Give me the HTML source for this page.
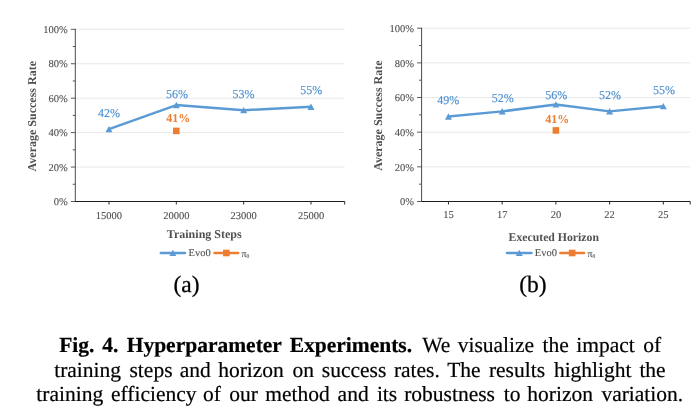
<!DOCTYPE html>
<html><head><meta charset="utf-8"><title>Fig. 4</title>
<style>
html,body{margin:0;padding:0;background:#fff;}
svg{display:block;filter:opacity(1);}
text{font-family:"Liberation Serif","DejaVu Serif",serif;text-rendering:geometricPrecision;}
.tk{font-size:10.5px;fill:#4d4d4d;stroke:#4d4d4d;stroke-width:0.1px;}
.dl{font-size:12px;}
.tt{font-size:12px;font-weight:bold;fill:#505050;}
.sub{font-size:23.5px;fill:#000;stroke:#000;stroke-width:0.25px;}
.cap{font-size:21.5px;fill:#000;stroke:#000;stroke-width:0.2px;}
</style></head><body>
<svg width="696" height="418" viewBox="0 0 696 418">
<rect width="696" height="418" fill="#fff"/>
<line x1="75.3" x2="344.7" y1="167.06" y2="167.06" stroke="#E9E9E9" stroke-width="1"/>
<line x1="75.3" x2="344.7" y1="132.62" y2="132.62" stroke="#E9E9E9" stroke-width="1"/>
<line x1="75.3" x2="344.7" y1="98.18" y2="98.18" stroke="#E9E9E9" stroke-width="1"/>
<line x1="75.3" x2="344.7" y1="63.74" y2="63.74" stroke="#E9E9E9" stroke-width="1"/>
<line x1="75.3" x2="344.7" y1="29.30" y2="29.30" stroke="#E9E9E9" stroke-width="1"/>
<line x1="70.8" x2="75.3" y1="201.50" y2="201.50" stroke="#4a4a4a" stroke-width="0.9"/>
<line x1="72.7" x2="75.3" y1="184.28" y2="184.28" stroke="#4a4a4a" stroke-width="0.9"/>
<line x1="70.8" x2="75.3" y1="167.06" y2="167.06" stroke="#4a4a4a" stroke-width="0.9"/>
<line x1="72.7" x2="75.3" y1="149.84" y2="149.84" stroke="#4a4a4a" stroke-width="0.9"/>
<line x1="70.8" x2="75.3" y1="132.62" y2="132.62" stroke="#4a4a4a" stroke-width="0.9"/>
<line x1="72.7" x2="75.3" y1="115.40" y2="115.40" stroke="#4a4a4a" stroke-width="0.9"/>
<line x1="70.8" x2="75.3" y1="98.18" y2="98.18" stroke="#4a4a4a" stroke-width="0.9"/>
<line x1="72.7" x2="75.3" y1="80.96" y2="80.96" stroke="#4a4a4a" stroke-width="0.9"/>
<line x1="70.8" x2="75.3" y1="63.74" y2="63.74" stroke="#4a4a4a" stroke-width="0.9"/>
<line x1="72.7" x2="75.3" y1="46.52" y2="46.52" stroke="#4a4a4a" stroke-width="0.9"/>
<line x1="70.8" x2="75.3" y1="29.30" y2="29.30" stroke="#4a4a4a" stroke-width="0.9"/>
<text x="67.8" y="205.25" text-anchor="end" class="tk">0%</text>
<text x="67.8" y="170.81" text-anchor="end" class="tk">20%</text>
<text x="67.8" y="136.37" text-anchor="end" class="tk">40%</text>
<text x="67.8" y="101.93" text-anchor="end" class="tk">60%</text>
<text x="67.8" y="67.49" text-anchor="end" class="tk">80%</text>
<text x="67.8" y="33.05" text-anchor="end" class="tk">100%</text>
<line x1="75.3" x2="75.3" y1="28.8" y2="202.0" stroke="#4a4a4a" stroke-width="1"/>
<line x1="75.3" x2="344.7" y1="201.5" y2="201.5" stroke="#1c1c1c" stroke-width="1.2"/>
<line x1="108.97" x2="108.97" y1="201.5" y2="204.5" stroke="#2a2a2a" stroke-width="1"/>
<line x1="176.32" x2="176.32" y1="201.5" y2="204.5" stroke="#2a2a2a" stroke-width="1"/>
<line x1="243.68" x2="243.68" y1="201.5" y2="204.5" stroke="#2a2a2a" stroke-width="1"/>
<line x1="311.02" x2="311.02" y1="201.5" y2="204.5" stroke="#2a2a2a" stroke-width="1"/>
<line x1="344.70" x2="344.70" y1="201.5" y2="204.5" stroke="#2a2a2a" stroke-width="1"/>
<text x="108.97" y="219.20" text-anchor="middle" class="tk">15000</text>
<text x="176.32" y="219.20" text-anchor="middle" class="tk">20000</text>
<text x="243.68" y="219.20" text-anchor="middle" class="tk">23000</text>
<text x="311.02" y="219.20" text-anchor="middle" class="tk">25000</text>
<polyline points="108.97,129.18 176.32,105.07 243.68,110.23 311.02,106.79" fill="none" stroke="#5B9BD5" stroke-width="2.5" stroke-linejoin="round" stroke-linecap="round"/>
<polygon points="108.97,125.88 112.47,132.28 105.47,132.28" fill="#5B9BD5"/>
<polygon points="176.32,101.77 179.82,108.17 172.82,108.17" fill="#5B9BD5"/>
<polygon points="243.68,106.93 247.18,113.33 240.18,113.33" fill="#5B9BD5"/>
<polygon points="311.02,103.49 314.52,109.89 307.52,109.89" fill="#5B9BD5"/>
<text x="108.90" y="116.60" text-anchor="middle" class="dl" fill="#4c90d0" stroke="#4c90d0" stroke-width="0.15">42%</text>
<text x="177.00" y="97.90" text-anchor="middle" class="dl" fill="#4c90d0" stroke="#4c90d0" stroke-width="0.15">56%</text>
<text x="243.50" y="98.00" text-anchor="middle" class="dl" fill="#4c90d0" stroke="#4c90d0" stroke-width="0.15">53%</text>
<text x="311.20" y="94.00" text-anchor="middle" class="dl" fill="#4c90d0" stroke="#4c90d0" stroke-width="0.15">55%</text>
<rect x="173.02" y="127.60" width="6.6" height="6.6" fill="#ED7D31"/>
<text x="178.20" y="121.60" text-anchor="middle" class="dl" font-weight="bold" font-size="11.4" fill="#ED7D31">41%</text>
<text transform="translate(35.50,116.20) rotate(-90)" text-anchor="middle" class="tt">Average Success Rate</text>
<text x="204.25" y="238.1" text-anchor="middle" class="tt" style="font-size:12px">Training Steps</text>
<line x1="160.8" x2="185" y1="253" y2="253" stroke="#5B9BD5" stroke-width="2.5" stroke-linecap="round"/>
<polygon points="172.90,249.70 176.40,256.10 169.40,256.10" fill="#5B9BD5"/>
<text x="188.6" y="256.4" class="tk">Evo0</text>
<line x1="214.5" x2="238.2" y1="253" y2="253" stroke="#ED7D31" stroke-width="2.5" stroke-linecap="round"/>
<rect x="223.05" y="249.70" width="6.6" height="6.6" fill="#ED7D31"/>
<text x="241.5" y="256.4" class="tk"><tspan font-size="9.8" dy="0.6">π</tspan><tspan font-size="5.5" dy="0.5">0</tspan></text>
<text x="186.6" y="292.3" text-anchor="middle" class="sub">(a)</text>
<line x1="421.6" x2="690.2" y1="166.84" y2="166.84" stroke="#E9E9E9" stroke-width="1"/>
<line x1="421.6" x2="690.2" y1="132.18" y2="132.18" stroke="#E9E9E9" stroke-width="1"/>
<line x1="421.6" x2="690.2" y1="97.52" y2="97.52" stroke="#E9E9E9" stroke-width="1"/>
<line x1="421.6" x2="690.2" y1="62.86" y2="62.86" stroke="#E9E9E9" stroke-width="1"/>
<line x1="421.6" x2="690.2" y1="28.20" y2="28.20" stroke="#E9E9E9" stroke-width="1"/>
<line x1="417.1" x2="421.6" y1="201.50" y2="201.50" stroke="#4a4a4a" stroke-width="0.9"/>
<line x1="419.0" x2="421.6" y1="184.17" y2="184.17" stroke="#4a4a4a" stroke-width="0.9"/>
<line x1="417.1" x2="421.6" y1="166.84" y2="166.84" stroke="#4a4a4a" stroke-width="0.9"/>
<line x1="419.0" x2="421.6" y1="149.51" y2="149.51" stroke="#4a4a4a" stroke-width="0.9"/>
<line x1="417.1" x2="421.6" y1="132.18" y2="132.18" stroke="#4a4a4a" stroke-width="0.9"/>
<line x1="419.0" x2="421.6" y1="114.85" y2="114.85" stroke="#4a4a4a" stroke-width="0.9"/>
<line x1="417.1" x2="421.6" y1="97.52" y2="97.52" stroke="#4a4a4a" stroke-width="0.9"/>
<line x1="419.0" x2="421.6" y1="80.19" y2="80.19" stroke="#4a4a4a" stroke-width="0.9"/>
<line x1="417.1" x2="421.6" y1="62.86" y2="62.86" stroke="#4a4a4a" stroke-width="0.9"/>
<line x1="419.0" x2="421.6" y1="45.53" y2="45.53" stroke="#4a4a4a" stroke-width="0.9"/>
<line x1="417.1" x2="421.6" y1="28.20" y2="28.20" stroke="#4a4a4a" stroke-width="0.9"/>
<text x="414.1" y="205.25" text-anchor="end" class="tk">0%</text>
<text x="414.1" y="170.59" text-anchor="end" class="tk">20%</text>
<text x="414.1" y="135.93" text-anchor="end" class="tk">40%</text>
<text x="414.1" y="101.27" text-anchor="end" class="tk">60%</text>
<text x="414.1" y="66.61" text-anchor="end" class="tk">80%</text>
<text x="414.1" y="31.95" text-anchor="end" class="tk">100%</text>
<line x1="421.6" x2="421.6" y1="27.7" y2="202.0" stroke="#4a4a4a" stroke-width="1"/>
<line x1="421.6" x2="690.2" y1="201.5" y2="201.5" stroke="#1c1c1c" stroke-width="1.2"/>
<line x1="448.46" x2="448.46" y1="201.5" y2="204.5" stroke="#2a2a2a" stroke-width="1"/>
<line x1="502.18" x2="502.18" y1="201.5" y2="204.5" stroke="#2a2a2a" stroke-width="1"/>
<line x1="555.90" x2="555.90" y1="201.5" y2="204.5" stroke="#2a2a2a" stroke-width="1"/>
<line x1="609.62" x2="609.62" y1="201.5" y2="204.5" stroke="#2a2a2a" stroke-width="1"/>
<line x1="663.34" x2="663.34" y1="201.5" y2="204.5" stroke="#2a2a2a" stroke-width="1"/>
<line x1="690.20" x2="690.20" y1="201.5" y2="204.5" stroke="#2a2a2a" stroke-width="1"/>
<text x="448.46" y="218.20" text-anchor="middle" class="tk">15</text>
<text x="502.18" y="218.20" text-anchor="middle" class="tk">17</text>
<text x="555.90" y="218.20" text-anchor="middle" class="tk">20</text>
<text x="609.62" y="218.20" text-anchor="middle" class="tk">22</text>
<text x="663.34" y="218.20" text-anchor="middle" class="tk">25</text>
<polyline points="448.46,116.58 502.18,111.38 555.90,104.45 609.62,111.38 663.34,106.19" fill="none" stroke="#5B9BD5" stroke-width="2.5" stroke-linejoin="round" stroke-linecap="round"/>
<polygon points="448.46,113.28 451.96,119.68 444.96,119.68" fill="#5B9BD5"/>
<polygon points="502.18,108.08 505.68,114.48 498.68,114.48" fill="#5B9BD5"/>
<polygon points="555.90,101.15 559.40,107.55 552.40,107.55" fill="#5B9BD5"/>
<polygon points="609.62,108.08 613.12,114.48 606.12,114.48" fill="#5B9BD5"/>
<polygon points="663.34,102.89 666.84,109.28 659.84,109.28" fill="#5B9BD5"/>
<text x="448.20" y="104.00" text-anchor="middle" class="dl" fill="#4c90d0" stroke="#4c90d0" stroke-width="0.15">49%</text>
<text x="502.80" y="101.80" text-anchor="middle" class="dl" fill="#4c90d0" stroke="#4c90d0" stroke-width="0.15">52%</text>
<text x="556.20" y="99.00" text-anchor="middle" class="dl" fill="#4c90d0" stroke="#4c90d0" stroke-width="0.15">56%</text>
<text x="610.10" y="99.00" text-anchor="middle" class="dl" fill="#4c90d0" stroke="#4c90d0" stroke-width="0.15">52%</text>
<text x="663.90" y="94.00" text-anchor="middle" class="dl" fill="#4c90d0" stroke="#4c90d0" stroke-width="0.15">55%</text>
<rect x="552.60" y="127.15" width="6.6" height="6.6" fill="#ED7D31"/>
<text x="557.30" y="123.10" text-anchor="middle" class="dl" font-weight="bold" font-size="11.4" fill="#ED7D31">41%</text>
<text transform="translate(381.80,115.65) rotate(-90)" text-anchor="middle" class="tt">Average Success Rate</text>
<text x="553.75" y="241.4" text-anchor="middle" class="tt" style="font-size:11.75px">Executed Horizon</text>
<line x1="507" x2="531.5" y1="253" y2="253" stroke="#5B9BD5" stroke-width="2.5" stroke-linecap="round"/>
<polygon points="519.25,249.70 522.75,256.10 515.75,256.10" fill="#5B9BD5"/>
<text x="534.8" y="256.4" class="tk">Evo0</text>
<line x1="560.3" x2="584" y1="253" y2="253" stroke="#ED7D31" stroke-width="2.5" stroke-linecap="round"/>
<rect x="568.85" y="249.70" width="6.6" height="6.6" fill="#ED7D31"/>
<text x="587.5" y="256.4" class="tk"><tspan font-size="9.8" dy="0.6">π</tspan><tspan font-size="5.5" dy="0.5">0</tspan></text>
<text x="532.9" y="292.3" text-anchor="middle" class="sub">(b)</text>
<text y="352.3" class="cap"><tspan x="59.2" font-weight="bold" font-size="21.5">Fig. </tspan><tspan x="102.3" font-weight="bold" font-size="21.5">4. </tspan><tspan x="126.7" font-weight="bold" font-size="21.5">Hyperparameter </tspan><tspan x="289.7" font-weight="bold" font-size="21.5">Experiments. </tspan><tspan x="422.3">We </tspan><tspan x="457.7">visualize </tspan><tspan x="542.5">the </tspan><tspan x="576.3">impact </tspan><tspan x="643.2">of</tspan></text>
<text y="376.7" class="cap"><tspan x="54.2">training </tspan><tspan x="129.5">steps </tspan><tspan x="179.8">and </tspan><tspan x="218.2">horizon </tspan><tspan x="292.5">on </tspan><tspan x="321.8">success </tspan><tspan x="393.9">rates. </tspan><tspan x="447.2">The </tspan><tspan x="488.9">results </tspan><tspan x="553.9">highlight </tspan><tspan x="639.4">the</tspan></text>
<text y="401.2" class="cap"><tspan x="36.3">training </tspan><tspan x="111.0">efficiency </tspan><tspan x="203.1">of </tspan><tspan x="229.3">our </tspan><tspan x="265.2">method </tspan><tspan x="337.6">and </tspan><tspan x="376.9">its </tspan><tspan x="404.2">robustness </tspan><tspan x="503.8">to </tspan><tspan x="527.3">horizon </tspan><tspan x="601.4">variation.</tspan></text>
</svg>
</body></html>
